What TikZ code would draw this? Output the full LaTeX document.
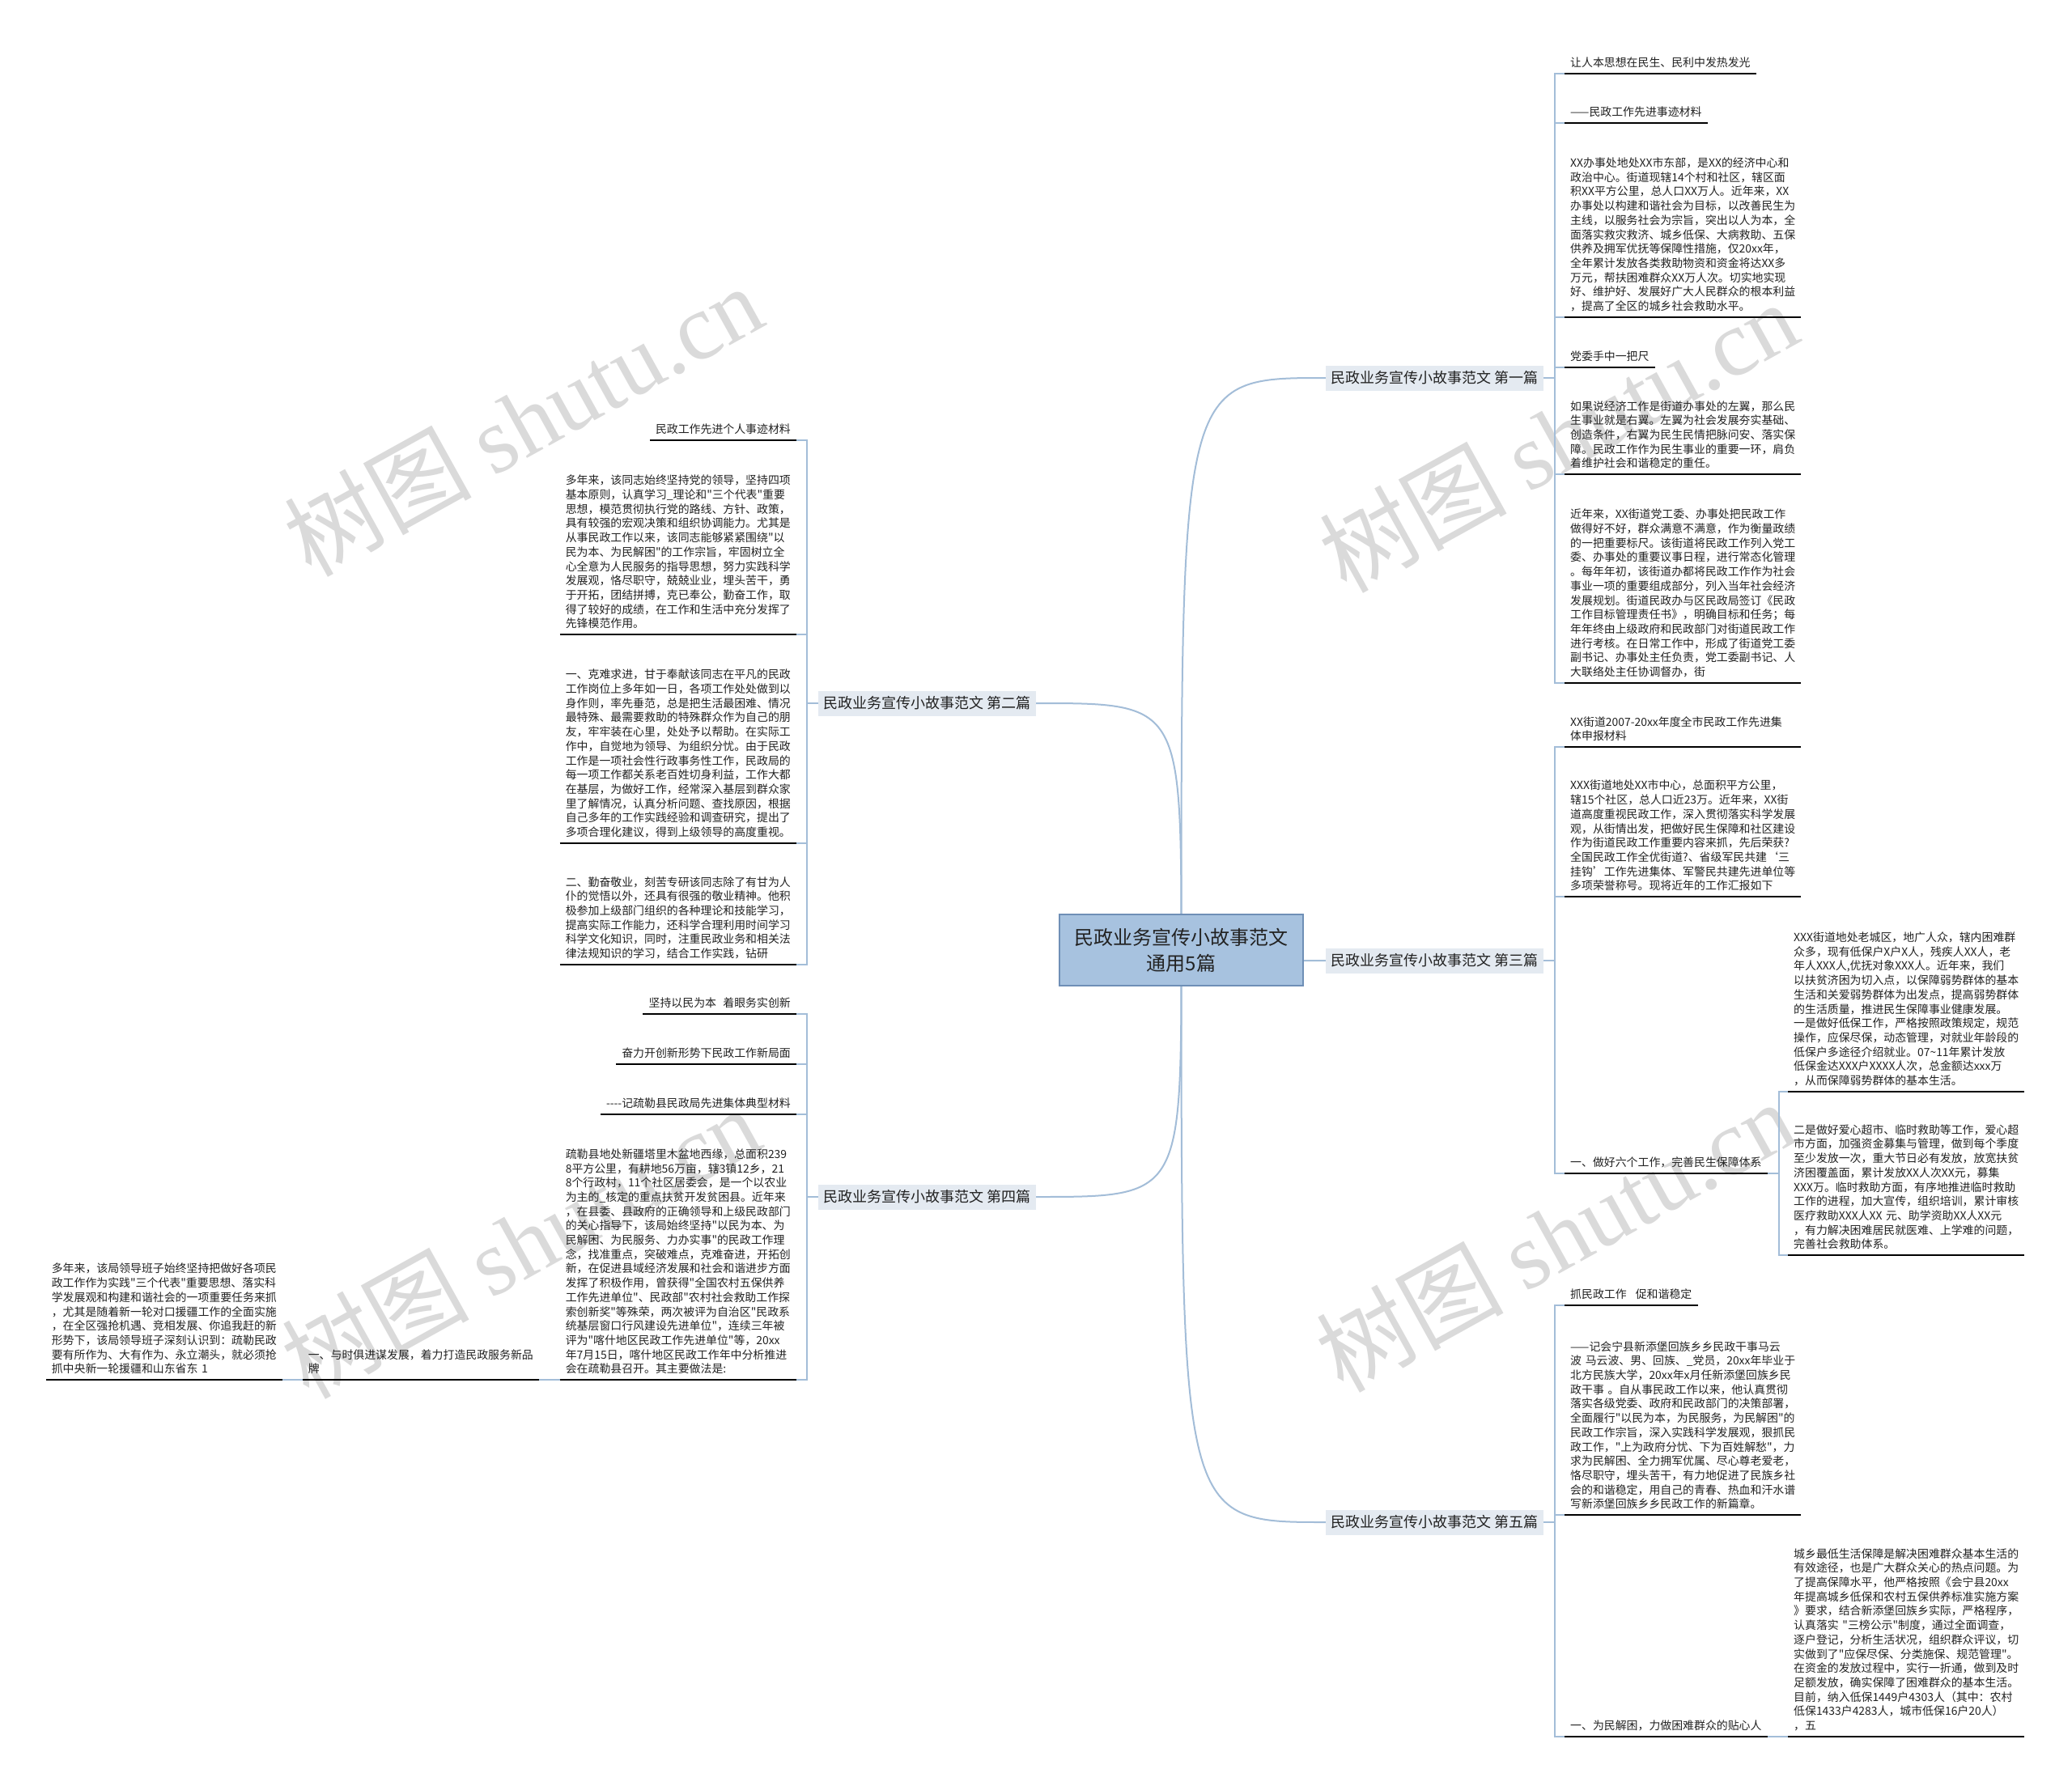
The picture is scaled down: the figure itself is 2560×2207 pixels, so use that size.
\documentclass[tikz,border=0pt]{standalone}
\usepackage{fontspec}
\setmainfont{Noto Sans CJK SC}[Ligatures=TeXOff]
\newfontfamily\wmserif{Liberation Serif}[Ligatures=TeXOff]
\usetikzlibrary{backgrounds}
\definecolor{linkc}{HTML}{A3BDD8}
\definecolor{ctrfill}{HTML}{A7C2DF}
\definecolor{ctrdraw}{HTML}{6F8FB6}
\definecolor{brfill}{HTML}{E4EAF1}
\definecolor{wmc}{HTML}{DADADA}
\definecolor{txt}{HTML}{222222}
\newcommand\leaffont{\fontsize{13.9}{17.7}\selectfont}
\begin{document}
\begin{tikzpicture}[x=1pt,y=-1pt,
 conn/.style={draw=linkc, line width=2},
 uline/.style={draw=black, line width=2.6},
 leafR/.style={anchor=south west, inner xsep=7, inner ysep=6.8, align=left, font=\leaffont, text=txt,
   append after command={(\tikzlastnode.south west) edge[uline] (\tikzlastnode.south east)}},
 leafL/.style={leafR, anchor=south east},
 para/.style={text width=278},
 ctrbox/.style={fill=ctrfill, draw=ctrdraw, line width=1.2, minimum width=301, minimum height=88, inner sep=0, align=center, font=\fontsize{24}{32}\selectfont, text=txt},
 brbox/.style={fill=brfill, minimum width=269, minimum height=31, inner sep=0, font=\fontsize{18}{22}\selectfont, text=txt},
 wm/.style={text=wmc, font=\fontsize{116}{116}\selectfont, inner sep=0, rotate=29}]
\useasboundingbox (0,0) rectangle (2560,2207);

% centre and branches
\node[ctrbox] (ctr) at (1459.5,1174) {民政业务宣传小故事范文\\通用5篇};
\node[brbox] (b1) at (1772.5,467) {民政业务宣传小故事范文 第一篇};
\node[brbox] (b2) at (1145.5,869) {民政业务宣传小故事范文 第二篇};
\node[brbox] (b3) at (1772.5,1187) {民政业务宣传小故事范文 第三篇};
\node[brbox] (b4) at (1145.5,1479) {民政业务宣传小故事范文 第四篇};
\node[brbox] (b5) at (1772.5,1881) {民政业务宣传小故事范文 第五篇};

% branch 1
\node[leafR] (r1a) at (1933,91) {让人本思想在民生、民利中发热发光};
\node[leafR] (r1b) at (1933,152) {——民政工作先进事迹材料};
\node[leafR,para] (r1c) at (1933,392) {XX办事处地处XX市东部，是XX的经济中心和\\政治中心。街道现辖14个村和社区，辖区面\\积XX平方公里，总人口XX万人。近年来，XX\\办事处以构建和谐社会为目标，以改善民生为\\主线，以服务社会为宗旨，突出以人为本，全\\面落实救灾救济、城乡低保、大病救助、五保\\供养及拥军优抚等保障性措施，仅20xx年，\\全年累计发放各类救助物资和资金将达XX多\\万元，帮扶困难群众XX万人次。切实地实现\\好、维护好、发展好广大人民群众的根本利益\\，提高了全区的城乡社会救助水平。};
\node[leafR] (r1d) at (1933,454) {党委手中一把尺};
\node[leafR,para] (r1e) at (1933,586) {如果说经济工作是街道办事处的左翼，那么民\\生事业就是右翼。左翼为社会发展夯实基础、\\创造条件，右翼为民生民情把脉问安、落实保\\障。民政工作作为民生事业的重要一环，肩负\\着维护社会和谐稳定的重任。};
\node[leafR,para] (r1f) at (1933,844) {近年来，XX街道党工委、办事处把民政工作\\做得好不好，群众满意不满意，作为衡量政绩\\的一把重要标尺。该街道将民政工作列入党工\\委、办事处的重要议事日程，进行常态化管理\\。每年年初，该街道办都将民政工作作为社会\\事业一项的重要组成部分，列入当年社会经济\\发展规划。街道民政办与区民政局签订《民政\\工作目标管理责任书》，明确目标和任务；每\\年年终由上级政府和民政部门对街道民政工作\\进行考核。在日常工作中，形成了街道党工委\\副书记、办事处主任负责，党工委副书记、人\\大联络处主任协调督办，街};

% branch 3
\node[leafR,para] (r3a) at (1933,923) {XX街道2007-20xx年度全市民政工作先进集\\体申报材料};
\node[leafR,para] (r3b) at (1933,1108) {XXX街道地处XX市中心，总面积平方公里，\\辖15个社区，总人口近23万。近年来，XX街\\道高度重视民政工作，深入贯彻落实科学发展\\观，从街情出发，把做好民生保障和社区建设\\作为街道民政工作重要内容来抓，先后荣获?\\全国民政工作全优街道?、省级军民共建‘三\\挂钩’工作先进集体、军警民共建先进单位等\\多项荣誉称号。现将近年的工作汇报如下};
\node[leafR] (r3c) at (1933,1450) {一、做好六个工作，完善民生保障体系};
\node[leafR,para] (r3c1) at (2209,1349) {XXX街道地处老城区，地广人众，辖内困难群\\众多，现有低保户X户X人，残疾人XX人，老\\年人XXX人,优抚对象XXX人。近年来，我们\\以扶贫济困为切入点，以保障弱势群体的基本\\生活和关爱弱势群体为出发点，提高弱势群体\\的生活质量，推进民生保障事业健康发展。\\一是做好低保工作，严格按照政策规定，规范\\操作，应保尽保，动态管理，对就业年龄段的\\低保户多途径介绍就业。07\textasciitilde 11年累计发放\\低保金达XXX户XXXX人次，总金额达xxx万\\，从而保障弱势群体的基本生活。};
\node[leafR,para] (r3c2) at (2209,1551) {二是做好爱心超市、临时救助等工作，爱心超\\市方面，加强资金募集与管理，做到每个季度\\至少发放一次，重大节日必有发放，放宽扶贫\\济困覆盖面，累计发放XX人次XX元，募集\\XXX万。临时救助方面，有序地推进临时救助\\工作的进程，加大宣传，组织培训，累计审核\\医疗救助XXX人XX~元、助学资助XX人XX元\\，有力解决困难居民就医难、上学难的问题，\\完善社会救助体系。};

% branch 5
\node[leafR] (r5a) at (1933,1613) {抓民政工作\hspace{0.8em}促和谐稳定};
\node[leafR,para] (r5b) at (1933,1872) {——记会宁县新添堡回族乡乡民政干事马云\\波~马云波、男、回族、\_党员，20xx年毕业于\\北方民族大学，20xx年x月任新添堡回族乡民\\政干事~。自从事民政工作以来，他认真贯彻\\落实各级党委、政府和民政部门的决策部署，\\全面履行"以民为本，为民服务，为民解困"的\\民政工作宗旨，深入实践科学发展观，狠抓民\\政工作，"上为政府分忧、下为百姓解愁"，力\\求为民解困、全力拥军优属、尽心尊老爱老，\\恪尽职守，埋头苦干，有力地促进了民族乡社\\会的和谐稳定，用自己的青春、热血和汗水谱\\写新添堡回族乡乡民政工作的新篇章。};
\node[leafR] (r5c) at (1933,2146) {一、为民解困，力做困难群众的贴心人};
\node[leafR,para] (r5c1) at (2209,2146) {城乡最低生活保障是解决困难群众基本生活的\\有效途径，也是广大群众关心的热点问题。为\\了提高保障水平，他严格按照《会宁县20xx\\年提高城乡低保和农村五保供养标准实施方案\\》要求，结合新添堡回族乡实际，严格程序，\\认真落实~"三榜公示"制度，通过全面调查，\\逐户登记，分析生活状况，组织群众评议，切\\实做到了"应保尽保、分类施保、规范管理"。\\在资金的发放过程中，实行一折通，做到及时\\足额发放，确实保障了困难群众的基本生活。\\目前，纳入低保1449户4303人（其中：农村\\低保1433户4283人，城市低保16户20人）\\，五};

% branch 2
\node[leafL] (l2a) at (984,544) {民政工作先进个人事迹材料};
\node[leafL,para] (l2b) at (984,784) {多年来，该同志始终坚持党的领导，坚持四项\\基本原则，认真学习\_理论和"三个代表"重要\\思想，模范贯彻执行党的路线、方针、政策，\\具有较强的宏观决策和组织协调能力。尤其是\\从事民政工作以来，该同志能够紧紧围绕"以\\民为本、为民解困"的工作宗旨，牢固树立全\\心全意为人民服务的指导思想，努力实践科学\\发展观，恪尽职守，兢兢业业，埋头苦干，勇\\于开拓，团结拼搏，克已奉公，勤奋工作，取\\得了较好的成绩，在工作和生活中充分发挥了\\先锋模范作用。};
\node[leafL,para] (l2c) at (984,1042) {一、克难求进，甘于奉献该同志在平凡的民政\\工作岗位上多年如一日，各项工作处处做到以\\身作则，率先垂范，总是把生活最困难、情况\\最特殊、最需要救助的特殊群众作为自己的朋\\友，牢牢装在心里，处处予以帮助。在实际工\\作中，自觉地为领导、为组织分忧。由于民政\\工作是一项社会性行政事务性工作，民政局的\\每一项工作都关系老百姓切身利益，工作大都\\在基层，为做好工作，经常深入基层到群众家\\里了解情况，认真分析问题、查找原因，根据\\自己多年的工作实践经验和调查研究，提出了\\多项合理化建议，得到上级领导的高度重视。};
\node[leafL,para] (l2d) at (984,1192) {二、勤奋敬业，刻苦专研该同志除了有甘为人\\仆的觉悟以外，还具有很强的敬业精神。他积\\极参加上级部门组织的各种理论和技能学习，\\提高实际工作能力，还科学合理利用时间学习\\科学文化知识，同时，注重民政业务和相关法\\律法规知识的学习，结合工作实践，钻研};

% branch 4
\node[leafL] (l4a) at (984,1253) {坚持以民为本\hspace{0.6em}着眼务实创新};
\node[leafL] (l4b) at (984,1315) {奋力开创新形势下民政工作新局面};
\node[leafL] (l4c) at (984,1377) {----记疏勒县民政局先进集体典型材料};
\node[leafL,para] (l4d) at (984,1705) {疏勒县地处新疆塔里木盆地西缘，总面积239\\8平方公里，有耕地56万亩，辖3镇12乡，21\\8个行政村，11个社区居委会，是一个以农业\\为主的\_核定的重点扶贫开发贫困县。近年来\\，在县委、县政府的正确领导和上级民政部门\\的关心指导下，该局始终坚持"以民为本、为\\民解困、为民服务、力办实事"的民政工作理\\念，找准重点，突破难点，克难奋进，开拓创\\新，在促进县域经济发展和社会和谐进步方面\\发挥了积极作用，曾获得"全国农村五保供养\\工作先进单位"、民政部"农村社会救助工作探\\索创新奖"等殊荣，两次被评为自治区"民政系\\统基层窗口行风建设先进单位"，连续三年被\\评为"喀什地区民政工作先进单位"等，20xx\\年7月15日，喀什地区民政工作年中分析推进\\会在疏勒县召开。其主要做法是:};
\node[leafL,para] (l4d1) at (666,1705) {一、与时俱进谋发展，着力打造民政服务新品\\牌};
\node[leafL,para] (l4d1a) at (349,1705) {多年来，该局领导班子始终坚持把做好各项民\\政工作作为实践"三个代表"重要思想、落实科\\学发展观和构建和谐社会的一项重要任务来抓\\，尤其是随着新一轮对口援疆工作的全面实施\\，在全区强抢机遇、竞相发展、你追我赶的新\\形势下，该局领导班子深刻认识到：疏勒民政\\要有所作为、大有作为、永立潮头，就必须抢\\抓中央新一轮援疆和山东省东 1};

\begin{scope}[on background layer]
 \fill[white] (0,0) rectangle (2560,2207);
 \node[wm] (wm1) at (646,519) {树图 {\wmserif shutu.cn}};
 \node[wm] (wm2) at (1925,539) {树图 {\wmserif shutu.cn}};
 \node[wm] (wm3) at (643,1535) {树图 {\wmserif shutu.cn}};
 \node[wm] (wm4) at (1921,1527) {树图 {\wmserif shutu.cn}};
 % centre to branches
 \draw[conn] (ctr.center) .. controls (ctr.center |- b1.west) .. (b1.west);
 \draw[conn] (ctr.center) .. controls (ctr.center |- b3.west) .. (b3.west);
 \draw[conn] (ctr.center) .. controls (ctr.center |- b5.west) .. (b5.west);
 \draw[conn] (ctr.center) .. controls (ctr.center |- b2.east) .. (b2.east);
 \draw[conn] (ctr.center) .. controls (ctr.center |- b4.east) .. (b4.east);
 % branch 1
 \foreach \n in {r1a,r1b,r1c,r1d,r1e,r1f} {\draw[conn] (b1.east) -- ++(14,0) |- (\n.south west);}
 % branch 3
 \foreach \n in {r3a,r3b,r3c} {\draw[conn] (b3.east) -- ++(14,0) |- (\n.south west);}
 \foreach \n in {r3c1,r3c2} {\draw[conn] (r3c.south east) -- ++(14,0) |- (\n.south west);}
 % branch 5
 \foreach \n in {r5a,r5b,r5c} {\draw[conn] (b5.east) -- ++(14,0) |- (\n.south west);}
 \draw[conn] (r5c.south east) -- (r5c1.south west);
 % branch 2
 \foreach \n in {l2a,l2b,l2c,l2d} {\draw[conn] (b2.west) -- ++(-14,0) |- (\n.south east);}
 % branch 4
 \foreach \n in {l4a,l4b,l4c,l4d} {\draw[conn] (b4.west) -- ++(-14,0) |- (\n.south east);}
 \draw[conn] (l4d.south west) -- (l4d1.south east);
 \draw[conn] (l4d1.south west) -- (l4d1a.south east);
\end{scope}
\end{tikzpicture}
\end{document}
